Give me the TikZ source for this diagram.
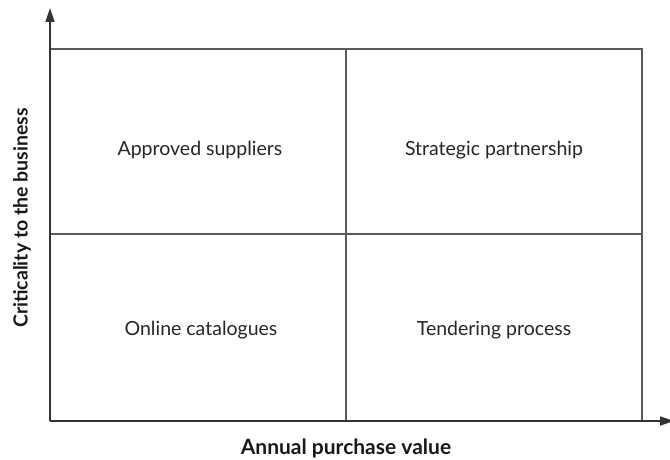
\documentclass[tikz,border=0pt]{standalone}
\usepackage{fontspec}
\setmainfont{Lato}
\usetikzlibrary{arrows.meta}
\definecolor{linegray}{HTML}{5A5A5A}
\definecolor{axisgray}{HTML}{333333}
\tikzset{
  cellline/.style={draw=linegray, line width=1.6pt},
  axisline/.style={draw=axisgray, line width=1.6pt, -{Triangle[length=14pt,width=9pt]}},
  celltext/.style={font=\fontsize{19.5}{22}\selectfont, text=black!85},
  axistext/.style={font=\bfseries\fontsize{21}{24}\selectfont, text=black!90}
}
\begin{document}
\begin{tikzpicture}[x=1pt,y=1pt]
\useasboundingbox (0,0) rectangle (670,460);
% corners (y = 460 - image y)
\coordinate (O) at (50,39);
\coordinate (TL) at (50,411);
\coordinate (BR) at (642,39);
\coordinate (TR) at (642,411);
\coordinate (MT) at (346,411);
\coordinate (MB) at (346,39);
\coordinate (ML) at (50,226);
\coordinate (MR) at (642,226);
\coordinate (Ytip) at (50,452);
\coordinate (Xtip) at (674,39);
% grid
\draw[cellline] (TL) -- (TR) -- (BR);
\draw[cellline] (MT) -- (MB);
\draw[cellline] (ML) -- (MR);
% axes
\draw[axisline] (O) -- (Ytip);
\draw[axisline] (O) -- (Xtip);
% labels
\node[celltext] (a) at (200,310) {Approved suppliers};
\node[celltext] (s) at (494,310) {Strategic partnership};
\node[celltext] (o) at (201,130) {Online catalogues};
\node[celltext] (t) at (494,130) {Tendering process};
\node[axistext, anchor=base, inner sep=0pt] (xl) at (346,5) {Annual purchase value};
\node[axistext, rotate=90, font=\bfseries\fontsize{19.5}{22}\selectfont] (yl) at (22,242) {Criticality to the business};
\end{tikzpicture}
\end{document}
